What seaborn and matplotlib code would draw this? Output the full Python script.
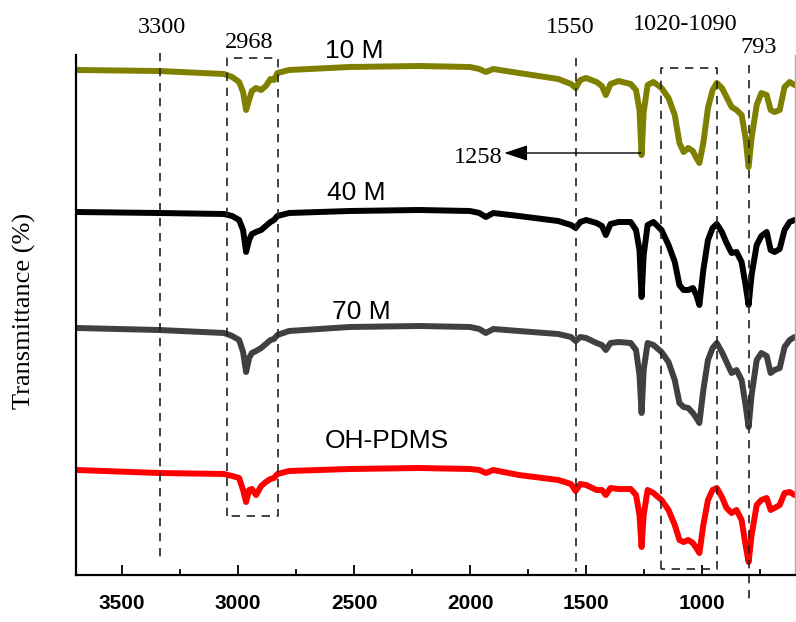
import numpy as np
import pandas as pd
import matplotlib
matplotlib.use("Agg")
import matplotlib.pyplot as plt
from matplotlib.ticker import MultipleLocator
import seaborn as sns

# wavenumber grid (cm-1)
wavenumber = [3695, 3340, 3060, 3025, 2995, 2978, 2965, 2952, 2940, 2922, 2900, 2880,
              2860, 2845, 2830, 2780, 2520, 2220, 2000, 1960, 1932, 1900, 1790, 1620,
              1565, 1545, 1525, 1500, 1455, 1432, 1415, 1395, 1360, 1308, 1285, 1270,
              1261, 1252, 1235, 1210, 1175, 1145, 1118, 1098, 1080, 1060, 1040, 1025,
              1012, 995, 975, 955, 937, 915, 895, 873, 852, 830, 813, 800, 787, 765,
              745, 722, 705, 688, 666, 645, 623, 602]

# depth below the top of the plot (stacked, arbitrary units)
depth_10m = [70, 71, 74, 77, 82, 92, 110, 100, 91, 88, 90, 86, 79, 80, 73, 70, 67, 66,
             67, 69, 72, 69, 73, 79, 84, 88, 80, 78, 82, 86, 95, 84, 81, 84, 90, 110,
             155, 112, 85, 82, 88, 98, 115, 143, 152, 148, 151, 158, 163, 143, 108, 90,
             83, 88, 97, 107, 110, 115, 138, 167, 138, 105, 93, 95, 110, 112, 110, 87,
             82, 85]
depth_40m = [212, 213, 214, 216, 220, 230, 252, 240, 234, 232, 230, 226, 222, 220, 216,
             213, 211, 210, 211, 213, 217, 213, 216, 221, 225, 228, 222, 220, 223, 226,
             235, 224, 222, 222, 230, 250, 297, 255, 225, 222, 230, 245, 262, 285, 290,
             290, 288, 295, 305, 270, 240, 228, 224, 232, 243, 253, 252, 262, 285, 305,
             275, 245, 236, 232, 250, 252, 249, 230, 222, 220]
depth_70m = [328, 330, 333, 336, 340, 352, 372, 358, 353, 351, 348, 344, 340, 339, 335,
             331, 327, 326, 327, 329, 333, 329, 331, 334, 337, 341, 337, 338, 343, 345,
             350, 343, 342, 343, 350, 375, 413, 370, 343, 345, 352, 362, 380, 403, 407,
             408, 413, 418, 423, 390, 360, 348, 343, 352, 362, 373, 370, 380, 405, 427,
             395, 360, 353, 356, 373, 370, 368, 347, 340, 337]
depth_pdms = [470, 473, 474, 476, 478, 490, 502, 490, 489, 495, 486, 482, 479, 478, 474,
              471, 469, 468, 469, 470, 473, 470, 475, 480, 484, 491, 484, 485, 490, 490,
              495, 488, 489, 489, 495, 515, 547, 515, 490, 493, 500, 510, 525, 540, 542,
              540, 543, 548, 553, 525, 500, 490, 488, 497, 508, 513, 510, 520, 545, 562,
              535, 505, 500, 498, 510, 508, 505, 493, 492, 495]

samples = ["10 M", "40 M", "70 M", "OH-PDMS"]
colors = ["#808000", "#000000", "#404040", "#ff0000"]
xtick_vals = [3500, 3000, 2500, 2000, 1500, 1000]

TOP = 575  # convert depth to stacked transmittance
frames = []
for name, d in zip(samples, [depth_10m, depth_40m, depth_70m, depth_pdms]):
    frames.append(pd.DataFrame({"wn": wavenumber, "T": TOP - np.array(d), "sample": name}))
df = pd.concat(frames, ignore_index=True)

sns.set_style("ticks")
plt.rcParams["font.family"] = ["Liberation Sans", "DejaVu Sans"]
plt.rcParams["text.color"] = "black"
plt.rcParams["xtick.color"] = "black"
plt.rcParams["axes.edgecolor"] = "black"

fig = plt.figure(figsize=(7.96, 6.22), dpi=100)
ax = fig.add_axes([75.5 / 796, 1 - 575 / 622, (795 - 75.5) / 796, 520 / 622])

sns.lineplot(data=df, x="wn", y="T", hue="sample", palette=colors, hue_order=samples,
             estimator=None, sort=False, linewidth=4.3, legend=False, ax=ax,
             solid_joinstyle="round", solid_capstyle="round")

ax.set_xlim(3700, 600)
ax.set_ylim(0, 520)
ax.set_xlabel("")
ax.set_ylabel("")
ax.set_yticks([])
ax.set_xticks(xtick_vals)
ax.set_xticklabels([str(v) for v in xtick_vals], fontweight="bold", fontsize=15,
                   color="black")
ax.xaxis.set_minor_locator(MultipleLocator(250))
ax.tick_params(axis="x", which="major", direction="in", length=7, width=1.3, pad=14,
               color="black")
ax.tick_params(axis="x", which="minor", direction="in", length=4, width=1.3,
               color="black")
ax.spines["top"].set_visible(False)
ax.spines["left"].set_linewidth(1.6)
ax.spines["bottom"].set_linewidth(1.6)
ax.spines["left"].set_color("black")
ax.spines["bottom"].set_color("black")
ax.spines["right"].set_color("#aaaaaa")
ax.spines["right"].set_linewidth(1.0)

# dashed guide lines and boxes
dash = dict(color="#222222", lw=1.2, ls=(0, (5, 4)), clip_on=False)
ax.plot([3337, 3337], [522, 13], **dash)
ax.plot([1542, 1542], [517, 3], **dash)
ax.plot([800, 800], [510, -24], **dash)
ax.plot([3049, 3049, 2829, 2829, 3049], [59, 517, 517, 59, 59], **dash)
ax.plot([1178, 1178, 937, 937, 1178], [6, 507, 507, 6, 6], **dash)

ax.annotate("", xy=(1853, 422), xytext=(1264, 422),
            arrowprops=dict(arrowstyle="-|>,head_length=0.9,head_width=0.3",
                            color="black", lw=1.0, mutation_scale=16,
                            shrinkA=0, shrinkB=0))

serif = ["Liberation Serif", "DejaVu Serif"]
def ptext(x, y, s, fam, size):
    fig.text(x / 796, 1 - y / 622, s, ha="center", va="baseline",
             family=fam, fontsize=size, color="black")

ptext(162, 33, "3300", serif, 17.5)
ptext(249, 48, "2968", serif, 17.5)
ptext(570, 33, "1550", serif, 17.5)
ptext(685, 30, "1020-1090", serif, 17.5)
ptext(759, 53, "793", serif, 17.5)
ptext(478, 163, "1258", serif, 17.5)

sans = ["Liberation Sans", "DejaVu Sans"]
ptext(354, 58, "10 M", sans, 19)
ptext(356, 200, "40 M", sans, 19)
ptext(361, 319, "70 M", sans, 19)
ptext(387, 448, "OH-PDMS", sans, 19)

fig.text(24 / 796, 0.5, "Transmittance (%)", rotation=90, ha="center", va="center",
         family=serif, fontsize=19, color="black")

fig.savefig("out.png", dpi=100)
